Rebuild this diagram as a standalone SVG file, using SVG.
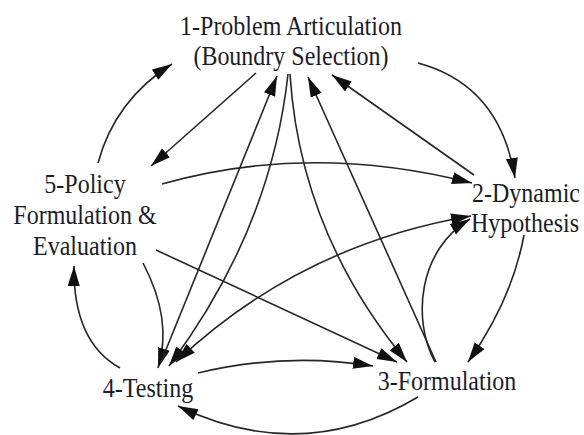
<svg xmlns="http://www.w3.org/2000/svg" width="584" height="435" viewBox="0 0 584 435">
<style>
.t{font-family:"Liberation Serif","Times New Roman",serif;font-size:24px;fill:#1c1c28;text-anchor:middle}
.e{fill:none;stroke:#262626;stroke-width:1.6}
</style>
<defs>
<marker id="ah" markerUnits="userSpaceOnUse" markerWidth="22" markerHeight="14" refX="20" refY="6" orient="auto-start-reverse" viewBox="0 0 22 14">
<path d="M0,0 L20,6 L0,12 z" fill="#111"/>
</marker>
</defs>
<rect width="584" height="435" fill="#fff"/>
<g id="connectors">
<path class="e" d="M418,63 Q500,85 515,178" marker-end="url(#ah)"/>
<path class="e" d="M474,175 L332,75" marker-end="url(#ah)"/>
<path class="e" d="M256,73 L151,166" marker-end="url(#ah)"/>
<path class="e" d="M98,163 Q115,100 172,64" marker-end="url(#ah)"/>
<path class="e" d="M162,184 Q310,142 472,183" marker-end="url(#ah)"/>
<path class="e" d="M156,250 L397,362" marker-end="url(#ah)"/>
<path class="e" d="M143,263 Q173,320 158,368" marker-end="url(#ah)"/>
<path class="e" d="M120,368 Q73,342 74,266" marker-end="url(#ah)"/>
<path class="e" d="M161,362 L277,76" marker-end="url(#ah)"/>
<path class="e" d="M288,74 Q271,230 169,366" marker-end="url(#ah)"/>
<path class="e" d="M290,74 Q300,233 407,362" marker-end="url(#ah)"/>
<path class="e" d="M436,362 L308,77" marker-end="url(#ah)"/>
<path class="e" d="M176,362 Q300,245 471,216" marker-start="url(#ah)" marker-end="url(#ah)"/>
<path class="e" d="M435,362 C412,320 418,250 470,219" marker-end="url(#ah)"/>
<path class="e" d="M524,235 Q512,300 468,362" marker-end="url(#ah)"/>
<path class="e" d="M198,373 Q285,352 373,366" marker-end="url(#ah)"/>
<path class="e" d="M418,397 Q302,466 178,406" marker-end="url(#ah)"/>
</g>
<g id="node1">
<text class="t" transform="translate(291,35) scale(1,1.1)">1-Problem Articulation</text>
<text class="t" transform="translate(291,65) scale(1,1.1)">(Boundry Selection)</text>
</g>
<g id="node2">
<text class="t" transform="translate(526,202) scale(1,1.1)">2-Dynamic</text>
<text class="t" transform="translate(525,232) scale(1,1.1)">Hypothesis</text>
</g>
<g id="node3">
<text class="t" transform="translate(447,390) scale(1,1.1)">3-Formulation</text>
</g>
<g id="node4">
<text class="t" transform="translate(148,397) scale(1,1.1)">4-Testing</text>
</g>
<g id="node5">
<text class="t" transform="translate(85,193) scale(1,1.1)">5-Policy</text>
<text class="t" transform="translate(85,224) scale(1,1.1)">Formulation &amp;</text>
<text class="t" transform="translate(85,255) scale(1,1.1)">Evaluation</text>
</g>
</svg>
